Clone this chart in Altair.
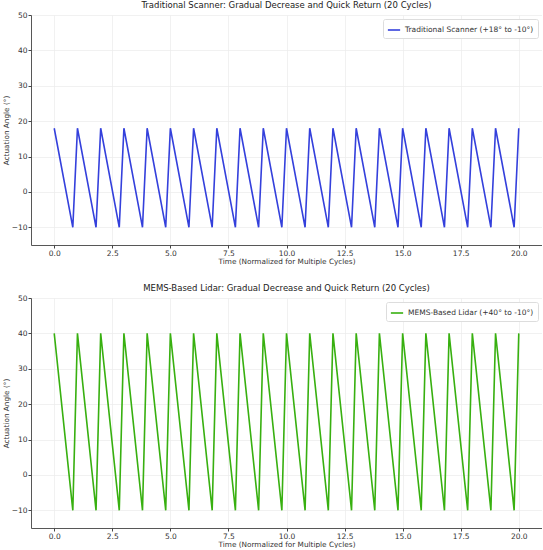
import altair as alt
import pandas as pd

# Vertex times of the sawtooth (gradual decrease over 0.8, quick return over 0.2)
time = [0, 0.8, 1, 1.8, 2, 2.8, 3, 3.8, 4, 4.8, 5, 5.8, 6, 6.8, 7, 7.8, 8, 8.8, 9, 9.8,
        10, 10.8, 11, 11.8, 12, 12.8, 13, 13.8, 14, 14.8, 15, 15.8, 16, 16.8, 17, 17.8,
        18, 18.8, 19, 19.8, 20]
trad_angle = [18, -10] * 20 + [18]
mems_angle = [40, -10] * 20 + [40]

trad_label = "Traditional Scanner (+18° to -10°)"
mems_label = "MEMS-Based Lidar (+40° to -10°)"
trad_title = "Traditional Scanner: Gradual Decrease and Quick Return (20 Cycles)"
mems_title = "MEMS-Based Lidar: Gradual Decrease and Quick Return (20 Cycles)"
x_ticks = [0, 2.5, 5, 7.5, 10, 12.5, 15, 17.5, 20]
y_ticks = [-10, 0, 10, 20, 30, 40, 50]

FONT = "DejaVu Sans"


def panel(angles, label, title, color):
    df = pd.DataFrame({"t": time, "a": angles, "s": label})
    return alt.Chart(df, title=alt.TitleParams(title, fontSize=8.5, font=FONT,
                                                fontWeight="normal", color="#222222",
                                                offset=2)).mark_line(
        strokeWidth=1.6, clip=True
    ).encode(
        x=alt.X("t:Q", scale=alt.Scale(domain=[-1, 21], nice=False, zero=False),
                axis=alt.Axis(values=x_ticks, format=".1f",
                              title="Time (Normalized for Multiple Cycles)")),
        y=alt.Y("a:Q", scale=alt.Scale(domain=[-15, 50], nice=False),
                axis=alt.Axis(values=y_ticks, title="Actuation Angle (°)")),
        color=alt.Color("s:N", scale=alt.Scale(domain=[label], range=[color]),
                        legend=alt.Legend(title=None, orient="top-right",
                                          symbolType="stroke", symbolStrokeWidth=1.6,
                                          symbolSize=150, labelFontSize=7.5,
                                          labelFont=FONT, labelColor="#333333",
                                          fillColor="white", strokeColor="#dddddd",
                                          padding=4, cornerRadius=2, offset=4)),
        order=alt.Order("t:Q"),
    ).properties(width=511, height=230)


top = panel(trad_angle, trad_label, trad_title, "#3440dc")
bottom = panel(mems_angle, mems_label, mems_title, "#38b010")

chart = alt.vconcat(top, bottom, spacing=18).resolve_scale(color="independent").properties(
    padding={"left": 2, "top": 0, "right": 0, "bottom": 0}
).configure_view(stroke=None).configure_axis(
    labelFont=FONT, titleFont=FONT, labelFontSize=7.5, titleFontSize=7.3,
    labelColor="#333333", titleColor="#333333", titleFontWeight="normal",
    gridColor="#ebebeb", gridWidth=0.7, domainColor="#444444", domainWidth=0.9,
    tickColor="#444444", tickSize=3, labelPadding=1, titlePadding=1,
).configure_axisY(domain=True)

chart.save("out.html", embed_options={"renderer": "svg", "actions": False})
